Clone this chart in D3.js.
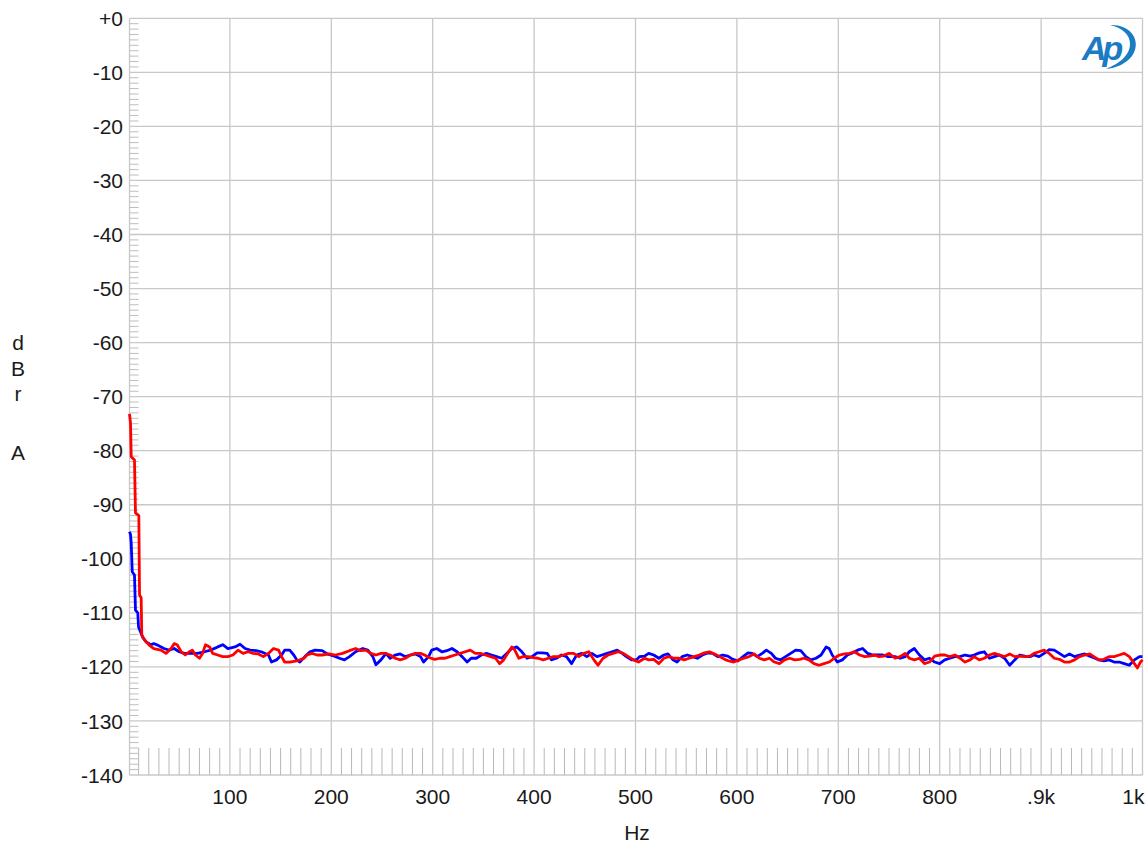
<!DOCTYPE html>
<html>
<head>
<meta charset="utf-8">
<script src="https://cdn.jsdelivr.net/npm/d3@7"></script>
<style>
  body { margin: 0; background: #fff; }
  svg { display: block; font-family: "Liberation Sans", Arial, sans-serif; }
</style>
</head>
<body>
<div id="chart"></div>
<script>
// axis labels
const yTicks = [0, -10, -20, -30, -40, -50, -60, -70, -80, -90, -100, -110, -120, -130, -140];
const yTickLabels = ["+0", "-10", "-20", "-30", "-40", "-50", "-60", "-70", "-80", "-90", "-100", "-110", "-120", "-130", "-140"];
const xTicks = [100, 200, 300, 400, 500, 600, 700, 800, 900, 1000];
const xTickLabels = ["100", "200", "300", "400", "500", "600", "700", "800", ".9k", "1k"];

// blue channel (Hz, dBr)
const blueHz = [1, 2, 2.7, 3.7, 5.9, 6.9, 9.2, 9.9, 12.5, 14.2, 17.5, 22,
  25, 28, 35, 40, 45, 50, 55, 61, 68, 75, 81, 88, 93, 98, 105, 110, 115, 120, 126, 131, 138, 141, 146, 151, 154, 159, 163, 166, 169, 174, 179, 184, 191, 196, 203, 208, 213, 218, 224, 231, 236, 241, 244, 249, 254,
  258, 263, 268, 273, 278, 283, 288, 291, 296, 299, 304, 309, 314, 319, 324, 329, 334, 338, 343, 348, 353, 358, 363, 368, 373, 378, 383, 388, 393, 398, 403, 408, 413, 417, 422, 427, 432, 437, 442, 447, 452, 457, 462, 467, 472, 477, 482, 487, 491, 496, 501,
  504, 509, 513, 518, 523, 528, 532, 537, 541, 546, 551, 556, 561, 566, 571, 576, 581, 586, 591, 596, 601, 606, 611, 615, 620, 625, 629, 634, 638, 643, 648, 653, 658, 663, 668, 673, 678, 683, 688, 691, 694, 699, 704, 709, 714, 719, 724, 729, 734, 739, 744, 749,
  756, 761, 766, 770, 775, 780, 785, 790, 795, 800, 805, 810, 815, 820, 825, 830, 834, 839, 844, 849, 854, 859, 864, 869, 874, 879, 884, 889, 893, 898, 903, 908, 913, 918, 923, 928, 933, 938, 943, 948, 952, 957, 962, 967, 972, 977, 982, 987, 992, 997, 1000];
const blueDb = [-95, -95.5, -97.1, -102.4, -103, -109.5, -110, -112.6, -113.8, -114.6, -115.4, -115.9,
  -115.7, -115.9, -116.6, -116.9, -116.6, -117.2, -117.5, -117.5, -117.5, -117.2, -116.9, -116.3, -115.9, -116.6, -116.3, -115.8, -116.6, -116.9, -117.0, -117.2, -117.8, -119.1, -118.7, -117.8, -116.9, -116.9, -117.8, -118.7, -119.1, -118.1, -117.2, -116.9, -117.0, -117.6, -118.0, -118.4, -118.7, -118.1, -117.2, -116.6, -116.9, -118.1, -119.6, -118.7, -117.5,
  -118.4, -117.8, -117.6, -118.1, -117.8, -117.6, -118.1, -119.1, -118.1, -116.9, -116.6, -117.2, -117.0, -116.6, -117.2, -118.1, -119.1, -118.4, -118.4, -117.8, -117.5, -117.8, -118.1, -118.4, -117.5, -116.6, -116.3, -117.2, -118.4, -118.1, -117.4, -117.4, -117.5, -118.7, -118.4, -117.8, -118.1, -119.4, -117.8, -117.5, -118.1, -117.5, -118.1, -117.8, -117.5, -117.2, -116.9, -117.5, -118.1, -118.7, -118.7,
  -118.1, -118.0, -117.5, -117.8, -118.4, -117.8, -117.6, -118.7, -119.1, -118.1, -117.8, -118.1, -118.4, -117.8, -117.4, -117.5, -118.1, -117.8, -118.0, -118.6, -118.9, -118.1, -117.4, -117.5, -118.1, -117.5, -116.9, -117.5, -118.4, -118.7, -118.1, -117.5, -116.9, -117.0, -118.1, -118.7, -118.4, -117.8, -116.3, -116.6, -117.8, -119.1, -118.7, -117.8, -117.4, -116.9, -116.6, -117.5, -117.8, -117.8, -117.8, -118.1,
  -118.1, -118.4, -118.1, -117.2, -116.6, -117.8, -118.7, -118.4, -119.1, -119.4, -118.7, -118.4, -118.1, -118.1, -117.8, -118.0, -117.8, -117.4, -117.2, -118.4, -118.1, -117.8, -118.4, -119.7, -118.7, -117.8, -118.0, -118.1, -117.8, -118.1, -117.5, -116.8, -116.9, -117.5, -118.1, -117.6, -118.1, -117.8, -117.6, -118.0, -118.3, -118.7, -118.9, -118.7, -119.1, -119.1, -119.4, -119.7, -118.7, -118.1, -118.1];

// red channel (Hz, dBr)
const redHz = [1, 2, 2.7, 5.9, 6.9, 10.2, 10.9, 12.5, 13.1, 15.8, 20.7,
  25, 32, 37, 42, 45, 48, 52, 56, 60, 63, 66, 70, 73, 76, 80, 83, 88, 93, 98, 103, 108, 113, 118, 123, 128, 133, 138, 143, 148, 151, 154, 159, 166, 173, 176, 181, 186, 191, 198, 204, 211, 218, 224, 229, 234, 239, 244, 249,
  253, 258, 263, 268, 273, 278, 283, 288, 292, 297, 302, 307, 312, 317, 322, 327, 332, 337, 342, 347, 352, 357, 362, 366, 370, 375, 378, 381, 385, 389, 394, 399, 404, 409, 414, 419, 424, 429, 434, 439, 444, 449, 454, 459, 463, 468, 473, 478, 483, 488, 493, 498, 503,
  509, 513, 518, 523, 528, 533, 538, 543, 548, 553, 558, 563, 568, 573, 578, 583, 588, 592, 597, 602, 607, 612, 617, 622, 627, 632, 637, 642, 647, 652, 657, 662, 666, 671, 676, 681, 686, 691, 696, 701, 706, 711, 716, 721, 726, 731, 736, 740, 745, 750,
  756, 761, 766, 770, 775, 780, 785, 790, 795, 800, 805, 810, 815, 820, 825, 830, 834, 839, 844, 849, 854, 859, 864, 869, 874, 879, 884, 889, 893, 898, 903, 908, 913, 918, 923, 928, 933, 938, 943, 948, 952, 957, 962, 967, 972, 977, 982, 987, 992, 995, 998, 1000];
const redDb = [-73.2, -74.9, -81.1, -81.7, -91.5, -92, -106.7, -107.2, -114.1, -115, -116,
  -116.6, -116.9, -117.5, -116.6, -115.7, -115.9, -117.2, -117.8, -117.2, -116.9, -117.8, -118.4, -117.5, -115.9, -116.3, -117.5, -117.8, -118.1, -118.1, -117.8, -116.9, -117.5, -117.2, -117.5, -117.6, -118.1, -117.5, -116.6, -116.9, -118.1, -119.1, -119.1, -118.9, -118.4, -117.8, -117.5, -117.8, -117.8, -117.6, -117.8, -117.5, -117.0, -116.6, -117.0, -116.9, -117.5, -117.8, -117.5,
  -117.5, -117.8, -118.4, -118.7, -118.4, -117.8, -117.5, -117.5, -117.8, -118.3, -118.6, -118.4, -118.4, -118.1, -117.8, -117.5, -117.2, -116.9, -117.5, -117.5, -117.8, -118.1, -118.4, -119.4, -118.7, -117.2, -116.3, -116.9, -118.4, -118.1, -118.1, -118.3, -118.4, -118.7, -118.4, -118.1, -118.1, -117.8, -117.5, -117.5, -118.1, -117.5, -117.2, -118.7, -119.7, -118.4, -117.8, -117.5, -117.2, -117.5, -118.1, -118.7, -119.1,
  -118.4, -118.7, -118.6, -119.4, -118.4, -118.1, -118.4, -118.4, -118.7, -118.4, -118.1, -117.8, -117.4, -117.2, -117.6, -118.1, -118.6, -118.9, -119.1, -118.7, -118.4, -118.1, -117.6, -118.4, -118.7, -118.4, -119.1, -119.4, -118.7, -118.4, -118.7, -118.6, -118.4, -118.7, -119.4, -119.7, -119.4, -119.1, -118.4, -117.8, -117.6, -117.5, -117.2, -117.8, -118.1, -118.0, -117.8, -118.1, -118.0, -117.5,
  -118.4, -118.1, -117.5, -118.4, -118.7, -118.4, -119.4, -119.1, -118.0, -117.8, -117.8, -118.1, -117.8, -118.4, -119.1, -118.7, -118.1, -118.7, -118.4, -117.8, -117.5, -117.8, -118.1, -117.6, -118.1, -118.0, -118.1, -118.0, -117.5, -117.2, -116.9, -117.5, -118.4, -118.6, -119.1, -119.1, -118.7, -118.1, -117.8, -117.6, -118.1, -118.7, -118.6, -118.1, -118.1, -117.8, -117.5, -118.1, -119.4, -120.2, -119.1, -118.7];

const series = [
  { name: "blue", color: "#0000ff", values: d3.zip(blueHz, blueDb) },
  { name: "red", color: "#ff0000", values: d3.zip(redHz, redDb) },
];

const width = 1147;
const height = 845;

const x = d3.scaleLinear().domain([1, 1000]).range([129.5, 1142.5]);
const y = d3.scaleLinear().domain([-140, 0]).range([775, 18.3]);

const svg = d3
  .select("#chart")
  .append("svg")
  .attr("width", width)
  .attr("height", height);

const gridColor = "#c8c8c8";
const textColor = "#1a1a1a";

// horizontal grid
svg
  .append("g")
  .selectAll("line")
  .data(yTicks)
  .join("line")
  .attr("x1", x(1))
  .attr("x2", x(1000))
  .attr("y1", (d) => y(d))
  .attr("y2", (d) => y(d))
  .attr("stroke", gridColor)
  .attr("stroke-width", 1.3);

// vertical grid
svg
  .append("g")
  .selectAll("line")
  .data(xTicks)
  .join("line")
  .attr("x1", (d) => x(d))
  .attr("x2", (d) => x(d))
  .attr("y1", y(0))
  .attr("y2", y(-140))
  .attr("stroke", gridColor)
  .attr("stroke-width", 1.3);

// left border
svg
  .append("line")
  .attr("x1", x(1))
  .attr("x2", x(1))
  .attr("y1", y(0))
  .attr("y2", y(-140))
  .attr("stroke", gridColor)
  .attr("stroke-width", 1.3);

// minor ticks, 1 dB on the left edge
const yMinor = d3.range(-140, 0, 1).filter((d) => d % 10 !== 0);
svg
  .append("g")
  .selectAll("line")
  .data(yMinor)
  .join("line")
  .attr("x1", x(1))
  .attr("x2", x(1) + 9)
  .attr("y1", (d) => y(d))
  .attr("y2", (d) => y(d))
  .attr("stroke", "#bdbdbd")
  .attr("stroke-width", 1);

// minor ticks, 10 Hz along the bottom
const xMinor = d3.range(10, 1000, 10).filter((d) => d % 100 !== 0);
svg
  .append("g")
  .selectAll("line")
  .data(xMinor)
  .join("line")
  .attr("x1", (d) => x(d))
  .attr("x2", (d) => x(d))
  .attr("y1", y(-140) - 27)
  .attr("y2", y(-140))
  .attr("stroke", "#b8b8b8")
  .attr("stroke-width", 1);

// y tick labels
svg
  .append("g")
  .selectAll("text")
  .data(yTicks)
  .join("text")
  .attr("x", 123)
  .attr("y", (d) => y(d))
  .attr("dy", "0.36em")
  .attr("text-anchor", "end")
  .attr("font-size", 21)
  .attr("fill", textColor)
  .text((d, i) => yTickLabels[i]);

// x tick labels
svg
  .append("g")
  .selectAll("text")
  .data(xTicks)
  .join("text")
  .attr("x", (d) => x(d))
  .attr("y", 804)
  .attr("text-anchor", (d) => (d === 1000 ? "end" : "middle"))
  .attr("dx", (d) => (d === 1000 ? 2 : 0))
  .attr("font-size", 21)
  .attr("fill", textColor)
  .text((d, i) => xTickLabels[i]);

// axis titles
svg
  .append("text")
  .attr("x", 637)
  .attr("y", 840)
  .attr("text-anchor", "middle")
  .attr("font-size", 21)
  .attr("fill", textColor)
  .text("Hz");

const yTitle = [
  { t: "d", y: 350 },
  { t: "B", y: 376 },
  { t: "r", y: 401 },
  { t: "A", y: 460 },
];
svg
  .append("g")
  .selectAll("text")
  .data(yTitle)
  .join("text")
  .attr("x", 18)
  .attr("y", (d) => d.y)
  .attr("text-anchor", "middle")
  .attr("font-size", 21)
  .attr("fill", textColor)
  .text((d) => d.t);

// traces
const line = d3
  .line()
  .x((d) => x(d[0]))
  .y((d) => y(d[1]));

svg
  .append("g")
  .selectAll("path")
  .data(series)
  .join("path")
  .attr("d", (d) => line(d.values))
  .attr("fill", "none")
  .attr("stroke", (d) => d.color)
  .attr("stroke-width", 2.8)
  .attr("stroke-linejoin", "round");

// Ap logo
const logo = svg.append("g").attr("transform", "translate(1080,22)");
logo
  .append("text")
  .attr("x", 2)
  .attr("y", 38)
  .attr("font-size", 34)
  .attr("font-style", "italic")
  .attr("font-weight", "bold")
  .attr("letter-spacing", -4)
  .attr("fill", "#1b7cc4")
  .text("Ap");
logo
  .append("path")
  .attr("d", "M30,3 C52,2 62,20 52,34 C46,42 36,46 26,47 C38,42 50,34 50,22 C50,12 42,6 30,3 Z")
  .attr("fill", "#1b7cc4");
</script>
</body>
</html>
